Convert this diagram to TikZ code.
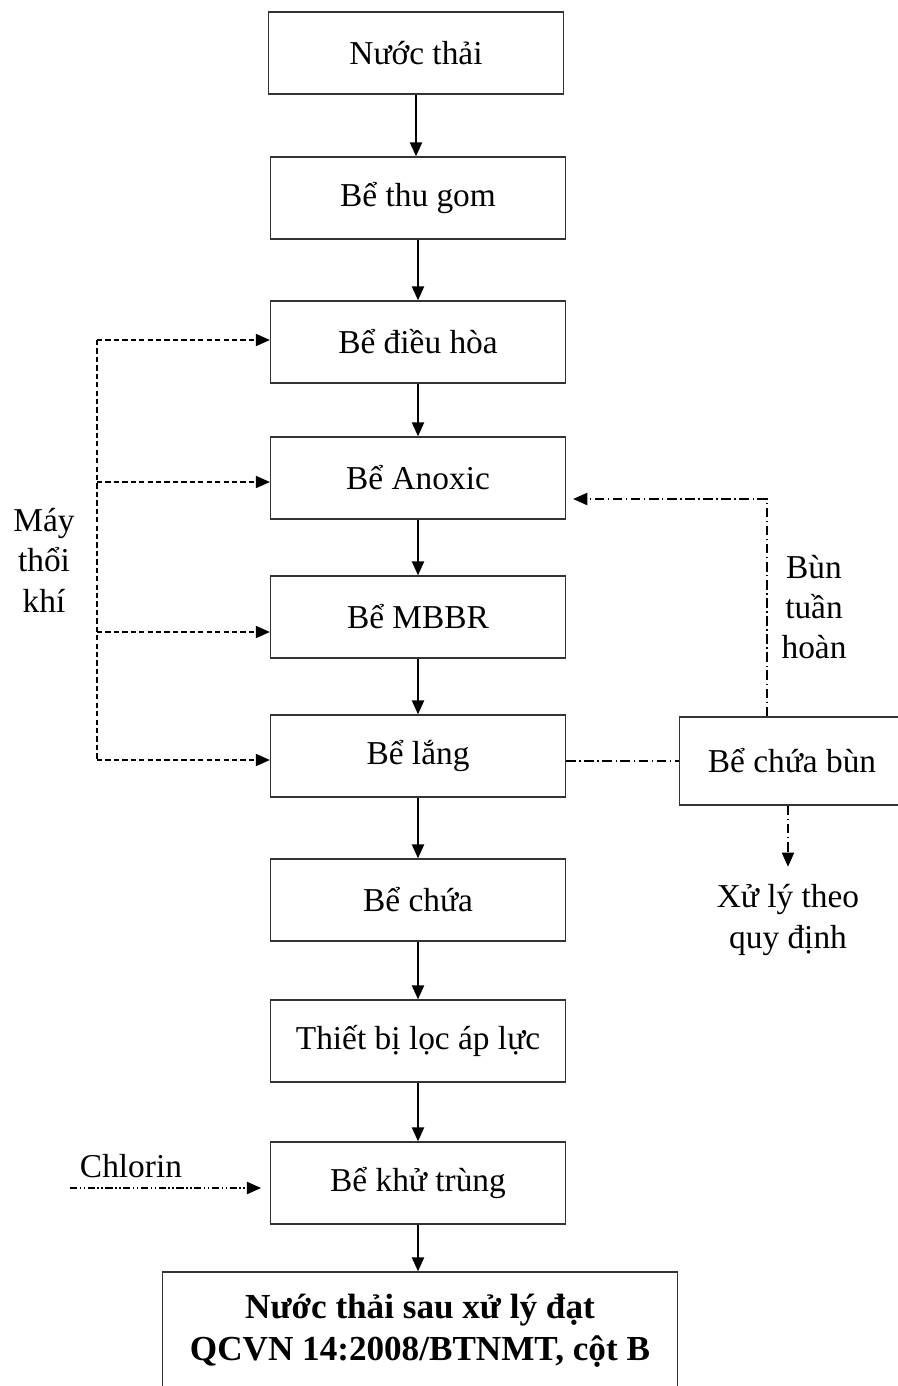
\documentclass[tikz,border=0pt]{standalone}
\usepackage{fontspec}
\setmainfont{Liberation Serif}
\usetikzlibrary{positioning,arrows.meta}

\begin{document}
\begin{tikzpicture}[x=0.02cm,y=-0.02cm,font=\fontsize{19}{23}\selectfont,
  tank/.style={draw=black!80,line width=0.8pt,minimum width=5.9cm,minimum height=1.64cm,inner sep=2pt},
  tip/.style={-{Triangle[length=8pt,width=7pt]}},
  flow/.style={tip,line width=0.9pt},
  air/.style={line width=0.6pt,dash pattern=on 3pt off 1.8pt},
  sludge/.style={line width=0.6pt,dash pattern=on 5.5pt off 2pt on 0.8pt off 2pt},
  chlo/.style={line width=0.6pt,dash pattern=on 4pt off 1.5pt on 0.8pt off 1.5pt on 0.8pt off 1.5pt}]
\useasboundingbox (0,0) rectangle (898,1386);
% main treatment line
\node[tank] (nuocthai) at (416,53) {Nước thải};
\node[tank] (thugom) at (418,198) {Bể thu gom};
\node[tank] (dieuhoa) at (418,342) {Bể điều hòa};
\node[tank] (anoxic) at (418,478) {Bể Anoxic};
\node[tank] (mbbr) at (418,617) {Bể MBBR};
\node[tank] (lang) at (418,756) {Bể lắng};
\node[tank] (chua) at (418,900) {Bể chứa};
\node[tank] (loc) at (418,1041) {Thiết bị lọc áp lực};
\node[tank] (khutrung) at (418,1183) {Bể khử trùng};
\node[tank,minimum width=10.3cm,minimum height=2.36cm,align=center,
  font=\fontsize{20}{24}\selectfont\bfseries] (dat) at (420,1331)
  {Nước thải sau xử lý đạt\\QCVN 14:2008/BTNMT, cột B};
\foreach \a/\b in {nuocthai/thugom,thugom/dieuhoa,dieuhoa/anoxic,anoxic/mbbr,
    mbbr/lang,lang/chua,chua/loc,loc/khutrung,khutrung/dat}{
  \draw[flow] (\a.south) -- (\a.south |- \b.north);
}
% air blower
\node[align=center] (maythoi) at (44,560) {Máy\\thổi\\khí};
\coordinate (a1) at (97,340);
\coordinate (a2) at (97,482);
\coordinate (a3) at (97,632);
\coordinate (a4) at (97,760);
\draw[air] (a1) -- (a4);
\foreach \a/\b in {a1/dieuhoa,a2/anoxic,a3/mbbr,a4/lang}{
  \draw[air,tip] (\a) -- (\a -| \b.west);
}
% sludge
\node[tank,minimum width=4.5cm,minimum height=1.76cm] (chuabun) at (792,761) {Bể chứa bùn};
\coordinate (r1) at (767,499);
\draw[sludge,tip,shorten >=4pt] (r1 |- chuabun.north) -- (r1) -- (r1 -| anoxic.east);
\node[align=center] (bun) at (814,607) {Bùn\\tuần\\hoàn};
\draw[sludge] (lang.east |- chuabun.west) -- (chuabun.west);
\node[align=center,inner sep=1pt] (xuly) at (788,920) {Xử lý theo\\quy định};
\draw[sludge,tip] (xuly.north |- chuabun.south) -- ([yshift=9pt]xuly.north);
% chlorine dosing
\node (chlorin) at (131,1166) {Chlorin};
\coordinate (c0) at (70,1188);
\draw[chlo,tip,shorten >=5pt] (c0) -- (c0 -| khutrung.west);
\end{tikzpicture}
\end{document}
